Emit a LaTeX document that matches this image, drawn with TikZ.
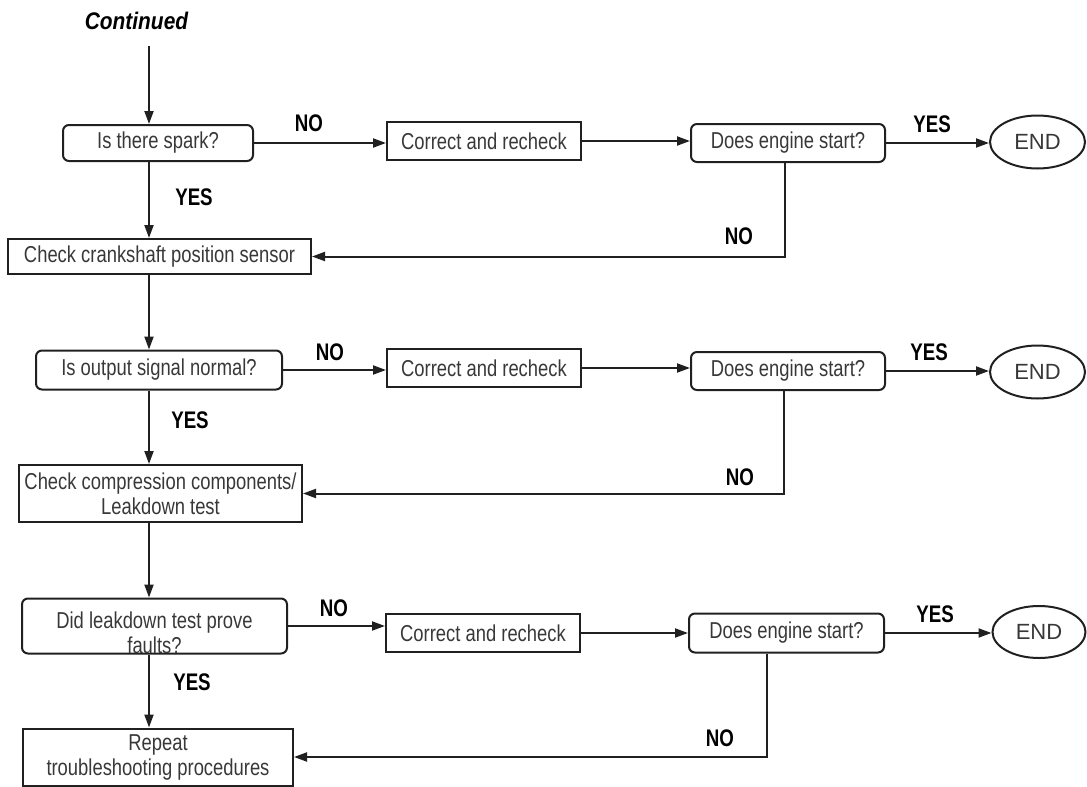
\documentclass[tikz,border=0pt]{standalone}
\usepackage{fontspec}
\setmainfont{Liberation Sans}
\newfontfamily\condfam{Liberation Sans}[FakeStretch=0.8]
\newfontfamily\labfam{Liberation Sans}[FakeStretch=0.78]
\newfontfamily\contfam{Liberation Sans}[FakeStretch=0.87]
\newcommand\condf{\condfam\fontsize{23}{25}\selectfont}
\newcommand\labf{\labfam\bfseries\fontsize{24}{27}\selectfont}
\newcommand\termf{\fontsize{22}{26}\selectfont}
\newcommand\contf{\contfam\bfseries\itshape\fontsize{24}{27}\selectfont}
\usetikzlibrary{shapes.geometric,arrows.meta}
\definecolor{linec}{HTML}{202020}
\definecolor{txt}{HTML}{383838}
\tikzset{
  dec/.style={draw=linec, line width=2pt, rounded corners=6pt, inner sep=1pt, text=txt, font=\condf, align=center},
  act/.style={draw=linec, line width=2pt, inner sep=1pt, text=txt, font=\condf, align=center},
  term/.style={ellipse, draw=linec, line width=2pt, inner sep=0pt, text=txt, font=\termf},
  arr/.style={line width=2pt, draw=linec, -{Triangle[length=13pt,width=9pt]}},
  lab/.style={font=\labf, text=black, inner sep=0pt},
  plain/.style={inner sep=0pt, text=txt, font=\condf, align=center}
}
\begin{document}
\begin{tikzpicture}[x=1pt,y=-1pt]
\useasboundingbox (0,0) rectangle (1087,787);
% spine and feedback columns
\coordinate (sp) at (149,0);
\coordinate (c0) at (149,46);
\coordinate (f1) at (785,0);
\coordinate (f2) at (784,0);
\coordinate (f3) at (767,0);

\node[font=\contf, text=black, inner sep=0pt] (cont) at (136.5,21) {Continued};

% row 1
\node[dec, minimum width=190pt, minimum height=36pt] (spark) at (158,143) {Is there spark?};
\node[act, minimum width=194pt, minimum height=38pt] (cor1) at (484,141) {Correct and recheck};
\node[dec, minimum width=194pt, minimum height=38pt] (eng1) at (788,143) {Does engine start?};
\node[term, minimum width=95pt, minimum height=53pt] (end1) at (1037.5,142) {END};
\node[act, minimum width=303pt, minimum height=35pt] (crank) at (159.5,256.5) {Check crankshaft position sensor};

% row 2
\node[dec, minimum width=246pt, minimum height=39pt] (out) at (159,370) {Is output signal normal?};
\node[act, minimum width=194pt, minimum height=38pt] (cor2) at (484,368) {Correct and recheck};
\node[dec, minimum width=194pt, minimum height=38pt] (eng2) at (788,371) {Does engine start?};
\node[term, minimum width=95pt, minimum height=53pt] (end2) at (1037.5,372) {END};
\node[act, minimum width=283pt, minimum height=57pt] (comp) at (160.5,493.5) {Check compression components/\\Leakdown test};

% row 3
\node[dec, minimum width=265pt, minimum height=55pt] (leak) at (154.5,626) {};
\node[plain] (leakt) at (154.5,633) {Did leakdown test prove\\faults?};
\node[act, minimum width=194pt, minimum height=38pt] (cor3) at (483,633) {Correct and recheck};
\node[dec, minimum width=195pt, minimum height=39pt] (eng3) at (786.5,633) {Does engine start?};
\node[term, minimum width=93pt, minimum height=52pt] (end3) at (1039,632) {END};
\node[act, minimum width=270pt, minimum height=57pt] (rep) at (158,757) {Repeat\\troubleshooting procedures};

% connectors
\draw[arr] (c0) -- (spark.north -| sp);
\draw[arr] (spark.east) -- (spark.east -| cor1.west);
\draw[arr] (cor1.east) -- (cor1.east -| eng1.west);
\draw[arr] (eng1.east) -- (eng1.east -| end1.west);
\draw[arr] (spark.south -| sp) -- (crank.north -| sp);
\draw[arr] (eng1.south -| f1) |- (crank.east);
\draw[arr] (crank.south -| sp) -- (out.north -| sp);

\draw[arr] (out.east) -- (out.east -| cor2.west);
\draw[arr] (cor2.east) -- (cor2.east -| eng2.west);
\draw[arr] (eng2.east) -- (eng2.east -| end2.west);
\draw[arr] (out.south -| sp) -- (comp.north -| sp);
\draw[arr] (eng2.south -| f2) |- (comp.east);
\draw[arr] (comp.south -| sp) -- (leak.north -| sp);

\draw[arr] (leak.east) -- (leak.east -| cor3.west);
\draw[arr] (cor3.east) -- (cor3.east -| eng3.west);
\draw[arr] (eng3.east) -- (eng3.east -| end3.west);
\draw[arr] (leak.south -| sp) -- (rep.north -| sp);
\draw[arr] (eng3.south -| f3) |- (rep.east);

% labels
\node[lab] (n1) at (309,123) {NO};
\node[lab] (y1) at (194,197) {YES};
\node[lab] (y1b) at (932,124) {YES};
\node[lab] (n1b) at (739,236) {NO};

\node[lab] (n2) at (330,352) {NO};
\node[lab] (y2) at (190,420) {YES};
\node[lab] (y2b) at (929,352) {YES};
\node[lab] (n2b) at (740,477) {NO};

\node[lab] (n3) at (334,608) {NO};
\node[lab] (y3) at (192,682) {YES};
\node[lab] (y3b) at (935,614) {YES};
\node[lab] (n3b) at (720,738) {NO};
\end{tikzpicture}
\end{document}
